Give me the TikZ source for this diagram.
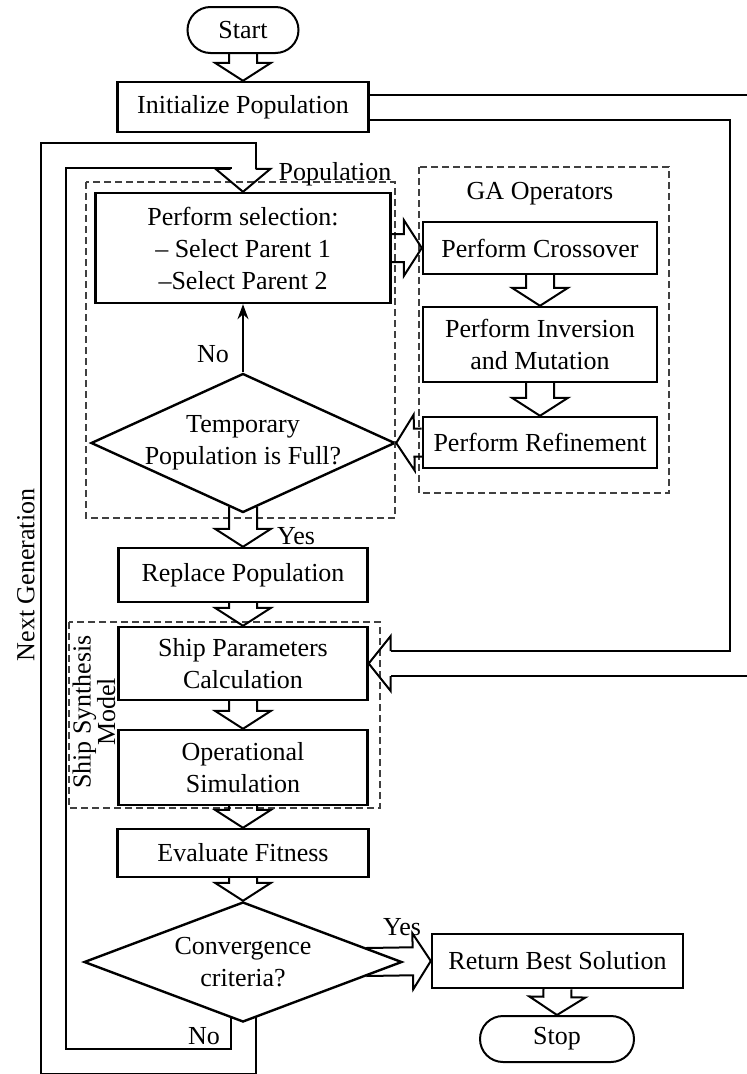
\documentclass[tikz,border=0pt]{standalone}
\usepackage{fontspec}
\setmainfont{Liberation Serif}
\usetikzlibrary{shapes.geometric, arrows.meta, calc, backgrounds}
\newcommand{\flowfont}{\fontsize{26}{32}\selectfont}
\tikzset{
    block/.style={
        rectangle, draw=black, line width=2.4pt,
        text centered, align=center, inner sep=2pt, font=\flowfont
    },
    termblock/.style={
        block, line width=2pt, rounded corners=23pt,
        minimum width=111pt, minimum height=46pt
    },
    decision/.style={
        diamond, draw=black, line width=2.4pt, inner sep=0pt
    },
    decisiontext/.style={align=center, font=\flowfont},
    groupbox/.style={draw=black!75, line width=1.3pt, dash pattern=on 7pt off 4pt},
    hollow/.style={draw=black, line width=2pt},
    hollowloop/.style={draw=black, line width=2pt, double=white, double distance=23pt},
    thinarrow/.style={draw=black, line width=1.3pt, -{Stealth[length=15pt, width=11pt]}},
    note/.style={font=\flowfont, inner sep=0pt}
}
% hollow block arrow from #1 to #2
\newcommand{\fatarrow}[2]{%
    \draw[hollow] let \p1=(#1), \p2=(#2),
        \n1={scalar(atan2(\y2-\y1,\x2-\x1))},
        \n2={veclen(\x2-\x1,\y2-\y1)-18pt} in
        ($(\p1)+(\n1+90:14pt)$) -- ($(\p1)+(\n1:\n2)+(\n1+90:14pt)$)
        -- ($(\p1)+(\n1:\n2)+(\n1+90:28pt)$) -- (\p2)
        -- ($(\p1)+(\n1:\n2)+(\n1-90:28pt)$)
        -- ($(\p1)+(\n1:\n2)+(\n1-90:14pt)$)
        -- ($(\p1)+(\n1-90:14pt)$);%
}

\begin{document}
\begin{tikzpicture}[x=1pt, y=-1pt]
    \useasboundingbox (0,0) rectangle (747,1074);

    % Main column
    \node[termblock] (start) at (243,30) {Start};
    \node[block, minimum width=251pt, minimum height=50pt] (init) at (243,107) {Initialize Population};
    \node[block, minimum width=295pt, minimum height=110pt] (popsel) at (243,248)
        {Perform selection:\\– Select Parent 1\\–Select Parent 2};
    \node[decision, minimum width=304pt, minimum height=139pt,
        label={[decisiontext]center:Temporary\\Population is Full?}] (tmpfull) at (243,443) {};
    \node[block, minimum width=249pt, minimum height=54pt] (replace) at (243,575) {Replace Population};
    \node[block, minimum width=249pt, minimum height=73pt] (ship) at (243,663.5) {Ship Parameters\\Calculation};
    \node[block, minimum width=249pt, minimum height=75pt] (oper) at (243,767.5) {Operational\\Simulation};
    \node[block, minimum width=251pt, minimum height=48pt] (eval) at (243,853) {Evaluate Fitness};
    \node[decision, minimum width=318pt, minimum height=120pt,
        label={[decisiontext]center:Convergence\\criteria?}] (conv) at (243,962) {};

    % GA operators
    \node[block, minimum width=234pt, minimum height=52pt] (crossover) at (540,248) {Perform Crossover};
    \node[block, minimum width=234pt, minimum height=75pt] (inversion) at (540,344.5) {Perform Inversion\\and Mutation};
    \node[block, minimum width=234pt, minimum height=51pt] (refine) at (540,442.5) {Perform Refinement};

    % End
    \node[block, minimum width=251pt, minimum height=54pt] (ret) at (557.5,961) {Return Best Solution};
    \node[termblock, minimum width=154pt] (stop) at (557,1039) {Stop};

    % Group boxes
    \draw[groupbox] (86,182) rectangle (395,518);
    \draw[groupbox] (419,167) rectangle (669,493);
    \draw[groupbox] (69,622) rectangle (380,808);
    \node[note] (poplabel) at (335,174) {Population};
    \node[note] (galabel) at (540,194) {GA Operators};
    \node[note, rotate=90, align=center, font=\fontsize{26}{22}\selectfont] (shiplabel) at (94,712) {Ship Synthesis\\Model};
    \node[note, rotate=90] (genlabel) at (26,575) {Next Generation};

    % Block arrows
    \fatarrow{start.south}{init.north}
    \fatarrow{popsel.east}{crossover.west}
    \fatarrow{crossover.south}{inversion.north}
    \fatarrow{inversion.south}{refine.north}
    \fatarrow{refine.west}{tmpfull.east}
    \fatarrow{$(tmpfull.south)+(0,-7)$}{replace.north}
    \fatarrow{replace.south}{ship.north}
    \fatarrow{ship.south}{oper.north}
    \fatarrow{oper.south}{eval.north}
    \fatarrow{eval.south}{conv.north}
    \fatarrow{$(conv.east)+(-37,0)$}{ret.west}
    \fatarrow{ret.south}{stop.north}
    \draw[thinarrow] (tmpfull.north) -- (popsel.south);

    % Loops
    \coordinate (genBL) at (53,1061);
    \coordinate (genTL) at (53,155);
    \coordinate (initBR) at (742,663.5);
    \begin{scope}[on background layer]
        \draw[hollowloop] ($(conv.south)+(0,-6)$) |- (genBL) -- (genTL) -| ($(popsel.north)+(0,-23)$);
        \draw[hollowloop] (init.east) -| (initBR) -- ($(ship.east)+(22,0)$);
    \end{scope}
    \draw[hollow] ($(popsel.north)+(-12.5,-23)$) -- ++(-15,0) -- (popsel.north)
        -- ($(popsel.north)+(27.5,-23)$) -- ++(-15,0);
    \draw[hollow] ($(ship.east)+(22,-12.5)$) -- ++(0,-15) -- (ship.east)
        -- ($(ship.east)+(22,27.5)$) -- ++(0,-15);

    % Branch labels
    \node[note] (nolabel) at (213,354) {No};
    \node[note] (yeslabel) at (296,536) {Yes};
    \node[note] (yes2label) at (402,927) {Yes};
    \node[note] (no2label) at (204,1036) {No};
\end{tikzpicture}
\end{document}
